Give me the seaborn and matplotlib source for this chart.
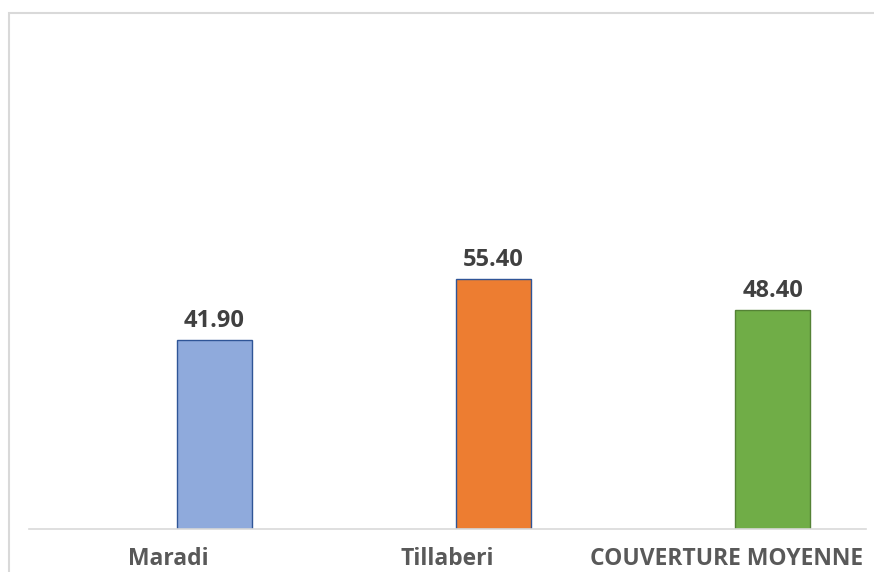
import numpy as np
import pandas as pd
import matplotlib.pyplot as plt
import matplotlib.transforms as mtransforms
import seaborn as sns
from matplotlib.patches import Rectangle

# data
regions = ["Maradi", "Tillaberi", "COUVERTURE MOYENNE"]
couverture = [41.90, 55.40, 48.40]
bar_colors = ["#8FAADC", "#ED7D31", "#70AD47"]
edge_colors = ["#2F5597", "#2F5597", "#548235"]

df = pd.DataFrame({"Region": regions, "Couverture": couverture})

sns.set_style("white")
plt.rcParams['font.family'] = ['Open Sans', 'DejaVu Sans']

fig = plt.figure(figsize=(8.74, 5.72), dpi=100)
ax = fig.add_axes([29 / 874, 1 - 529 / 572, (866 - 29) / 874, (529 - 32) / 572])

sns.barplot(x="Region", y="Couverture", data=df, hue="Region", palette=bar_colors,
            width=0.27, legend=False, ax=ax, saturation=1)

for patch, ec in zip(ax.patches, edge_colors):
    patch.set_edgecolor(ec)
    patch.set_linewidth(1.0)

for cont in ax.containers:
    ax.bar_label(cont, fmt="%.2f", padding=5, fontsize=17, fontweight="bold", color="#404040")

ax.set_ylim(0, 110)
ax.set_xlim(-0.665, 2.335)
ax.set_yticks([])
ax.set_xlabel("")
ax.set_ylabel("")
ax.tick_params(axis="x", length=0, pad=13)
# category labels sit a bit left of the bars in the original
shift = mtransforms.ScaledTranslation(-0.46, 0, fig.dpi_scale_trans)
for lbl in ax.get_xticklabels():
    lbl.set_fontsize(16.5)
    lbl.set_fontweight("bold")
    lbl.set_color("#595959")
    lbl.set_transform(lbl.get_transform() + shift)

for side in ["top", "right", "left"]:
    ax.spines[side].set_visible(False)
ax.spines["bottom"].set_color("#D9D9D9")
ax.spines["bottom"].set_linewidth(1.2)

# chart frame
fig.patches.append(Rectangle((9 / 874, -0.05), 1.0, 1 - 13 / 572 + 0.05,
                             transform=fig.transFigure, fill=False,
                             edgecolor="#D9D9D9", linewidth=1.5))

fig.savefig("out.png", dpi=100)
